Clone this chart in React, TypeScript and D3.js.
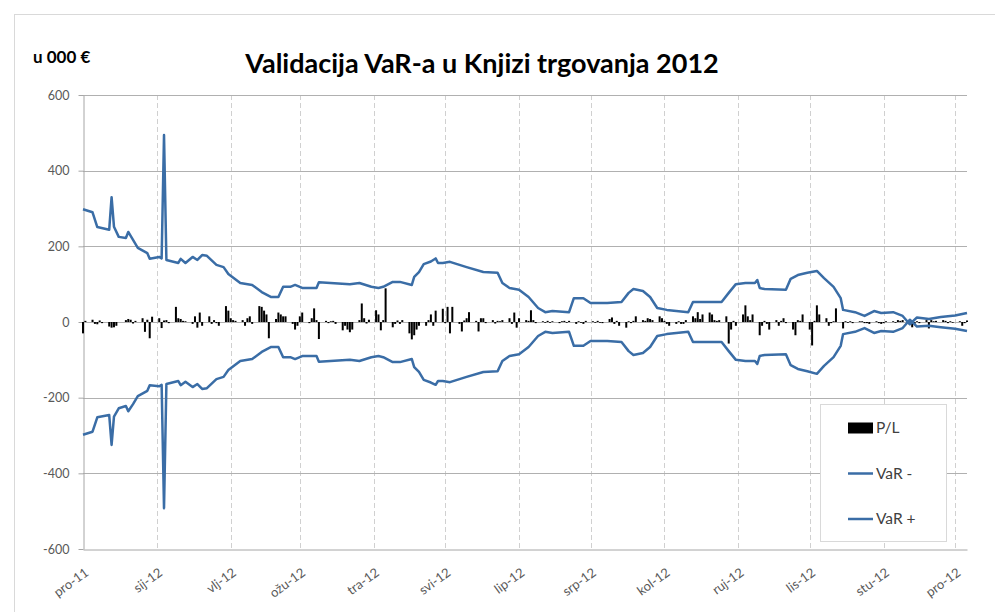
import { useEffect, useRef } from "react";
import * as d3 from "d3";

// month tick labels (Croatian Excel short months)
const monthLabels = [
  "pro-11", "sij-12", "vlj-12", "ožu-12", "tra-12", "svi-12", "lip-12",
  "srp-12", "kol-12", "ruj-12", "lis-12", "stu-12", "pro-12",
];
const yTicks = [-600, -400, -200, 0, 200, 400, 600];

// VaR band at the points where the line turns
const varDates = [
  "2011-12-01", "2011-12-05", "2011-12-07", "2011-12-12", "2011-12-13", "2011-12-14",
  "2011-12-16", "2011-12-19", "2011-12-20", "2011-12-22", "2011-12-24", "2011-12-28",
  "2011-12-29", "2012-01-02", "2012-01-03", "2012-01-04", "2012-01-05", "2012-01-10",
  "2012-01-11", "2012-01-13", "2012-01-16", "2012-01-18", "2012-01-20", "2012-01-22",
  "2012-01-26", "2012-01-29", "2012-01-31", "2012-02-05", "2012-02-10", "2012-02-14",
  "2012-02-18", "2012-02-21", "2012-02-23", "2012-02-26", "2012-02-28", "2012-03-02",
  "2012-03-08", "2012-03-09", "2012-03-22", "2012-03-26", "2012-03-31", "2012-04-03",
  "2012-04-05", "2012-04-09", "2012-04-12", "2012-04-17", "2012-04-18", "2012-04-20",
  "2012-04-22", "2012-04-25", "2012-04-27", "2012-04-28", "2012-04-30", "2012-05-03",
  "2012-05-10", "2012-05-17", "2012-05-23", "2012-05-25", "2012-05-28", "2012-06-01",
  "2012-06-05", "2012-06-09", "2012-06-12", "2012-06-15", "2012-06-22", "2012-06-24",
  "2012-06-28", "2012-07-01", "2012-07-08", "2012-07-14", "2012-07-17", "2012-07-19",
  "2012-07-23", "2012-07-26", "2012-07-29", "2012-08-02", "2012-08-11", "2012-08-13",
  "2012-08-25", "2012-08-28", "2012-08-31", "2012-09-04", "2012-09-08", "2012-09-09",
  "2012-09-10", "2012-09-12", "2012-09-21", "2012-09-23", "2012-09-26", "2012-09-30",
  "2012-10-04", "2012-10-07", "2012-10-11", "2012-10-14", "2012-10-15", "2012-10-20",
  "2012-10-24", "2012-10-28", "2012-10-31", "2012-11-05", "2012-11-09", "2012-11-12",
  "2012-11-15", "2012-11-20", "2012-11-25", "2012-12-01", "2012-12-06",
];
const varUpper = [
  298, 290, 251, 244, 330, 252, 225, 222, 238, 217, 196, 182,
  167, 172, 168, 494, 164, 156, 167, 156, 172, 164, 177, 175,
  151, 145, 127, 103, 98, 79, 66, 66, 93, 93, 98, 90,
  90, 105, 100, 103, 93, 90, 93, 106, 106, 98, 119, 132,
  153, 160, 168, 156, 156, 159, 145, 132, 130, 103, 90, 85,
  66, 37, 26, 29, 26, 63, 63, 50, 50, 53, 77, 87,
  82, 66, 37, 32, 26, 53, 53, 77, 100, 103, 103, 111,
  90, 87, 85, 114, 124, 130, 135, 116, 93, 63, 32, 26,
  16, 29, 24, 26, 16, -6, 12, 8, 13, 17, 24,
];
const varLower = [
  -298, -290, -252, -246, -325, -250, -228, -222, -236, -217, -196, -182,
  -167, -170, -166, -492, -164, -156, -167, -158, -172, -164, -177, -175,
  -151, -145, -127, -103, -98, -79, -66, -66, -93, -93, -98, -90,
  -90, -105, -100, -103, -93, -90, -93, -106, -106, -98, -119, -132,
  -153, -160, -166, -156, -156, -159, -145, -132, -130, -103, -90, -85,
  -66, -37, -26, -29, -26, -63, -63, -50, -50, -53, -77, -87,
  -82, -66, -37, -32, -26, -53, -53, -77, -100, -103, -103, -111,
  -90, -87, -85, -114, -124, -130, -137, -116, -93, -63, -32, -26,
  -16, -29, -24, -26, -16, 6, -12, -10, -14, -18, -24,
];

// daily P/L, one value per working day from 1 Dec 2011 to 6 Dec 2012
const plValues = [
  // pro-11
  -30, 3, 6, -5, -6, 4, -3, -12, -15, -14, -10, 0, 5, 8, 6, -4, 3, 10, -26, 6, -43, 14,
  // sij-12
  10, -16, 4, 5, -3, 40, 10, 8, 3, 2, -5, 15, -15, 25, -10, 15, -5, 5, -3, -10, 42, 30,
  // vlj-12
  10, 5, 3, 5, -10, 10, 15, -5, 42, 40, 30, 20, -43, 8, 25, 20, 15, 15, -5, -20, -10,
  // ožu-12
  15, 25, -3, 10, 36, 5, -45, 3, -3, 2, 3, -5, -22, -10, -20, -27, -20, 5, 49, 10, -4, 6,
  // tra-12
  31, 20, -22, 5, 89, -14, -5, 4, -5, 5, -30, -46, -35, -20, -10, -10, 5, 20, -10, 30, 35,
  // svi-12
  -3, 40, -30, 40, -5, -25, 4, 10, 26, 3, -25, 10, 10, -3, 5, -4, 3, 2, 5, 10, -5, 25, -15,
  // lip-12
  10, 5, 3, 31, 5, -3, 2, -2, 3, -2, 2, -3, 2, 3, -2, 3, -5, 2, -2, -5, 3,
  // srp-12
  2, -2, 3, -2, -3, 8, 12, -5, 3, -10, -15, 2, -3, 3, 15, 5, 3, 10, 8, 5, 15, 10,
  // kol-12
  3, -5, -10, -5, 2, -5, -5, 5, 15, 10, 26, 8, 20, 25, 20, 5, 3, 5, 15, -57, -20, 3, -10,
  // ruj-12
  20, 44, 15, 5, 20, -35, -10, 3, -5, -20, 5, -10, 3, 10, -3, -20, -35, 5, 3, 20,
  // lis-12
  -20, -62, 3, 44, 20, 10, -10, -3, 2, 36, -17, 2, -2, 2, -3, 2, 2, -3, -3, -5, 2, -3, -5,
  // stu-12
  -3, 2, 2, -2, 5, 3, 5, -8, -14, -5, 2, -3, 5, -17, 5, 2, 3, 5, 3, -3, 2, -2,
  // pro-12
  2, -10, -3, 4,
];

const legendItems = ["P/L", "VaR -", "VaR +"];

function App() {
  const ref = useRef<SVGSVGElement>(null);

  useEffect(() => {
    const svg = d3.select(ref.current);
    svg.selectAll("*").remove();
    const font = "Lato, 'Open Sans', sans-serif";
    const lineColor = "#3a6da6";

    const left = 83;
    const right = 967;
    const top = 95;
    const bottom = 549;

    const start = new Date(2011, 11, 1);
    const end = new Date(2012, 11, 6);
    const x = d3.scaleTime().domain([start, end]).range([left, right]);
    const y = d3.scaleLinear().domain([-600, 600]).range([bottom, top]);

    // outer chart frame
    svg
      .append("rect")
      .attr("x", 14.5)
      .attr("y", 14.5)
      .attr("width", 1000)
      .attr("height", 700)
      .attr("fill", "#fff")
      .attr("stroke", "#d9d9d9");

    svg
      .append("text")
      .attr("x", 482)
      .attr("y", 73)
      .attr("text-anchor", "middle")
      .attr("font-family", font)
      .attr("font-weight", "bold")
      .attr("font-size", 27)
      .attr("fill", "#000")
      .text("Validacija VaR-a u Knjizi trgovanja 2012");

    svg
      .append("text")
      .attr("x", 33)
      .attr("y", 63)
      .attr("font-family", font)
      .attr("font-weight", "bold")
      .attr("font-size", 17)
      .attr("fill", "#000")
      .text("u 000 €");

    const months = d3.timeMonth.range(start, new Date(2012, 11, 2));

    // vertical dashed month gridlines
    svg
      .append("g")
      .selectAll("line")
      .data(months.slice(1))
      .enter()
      .append("line")
      .attr("x1", (d) => Math.round(x(d)) + 0.5)
      .attr("x2", (d) => Math.round(x(d)) + 0.5)
      .attr("y1", top)
      .attr("y2", bottom)
      .attr("stroke", "#d0d0d0")
      .attr("stroke-dasharray", "5,3");

    // horizontal gridlines
    svg
      .append("g")
      .selectAll("line")
      .data(yTicks.slice(1))
      .enter()
      .append("line")
      .attr("x1", left)
      .attr("x2", right)
      .attr("y1", (d) => Math.round(y(d)) + 0.5)
      .attr("y2", (d) => Math.round(y(d)) + 0.5)
      .attr("stroke", "#b0b0b0");

    // y axis
    const yAxis = svg
      .append("g")
      .attr("transform", `translate(${left + 0.5},0)`)
      .call(
        d3
          .axisLeft(y)
          .tickValues(yTicks)
          .tickSize(5)
          .tickSizeOuter(0)
          .tickPadding(9)
          .tickFormat((d) => String(d))
      );
    yAxis.select(".domain").attr("stroke", "#a6a6a6");
    yAxis.selectAll(".tick line").attr("stroke", "#a6a6a6");
    yAxis
      .selectAll("text")
      .attr("font-family", font)
      .attr("font-size", 12.5)
      .attr("fill", "#595959");

    // x axis
    const xAxis = svg
      .append("g")
      .attr("transform", `translate(0,${Math.round(bottom) + 0.5})`)
      .call(
        d3
          .axisBottom(x)
          .tickValues(months)
          .tickSize(0)
          .tickSizeOuter(0)
          .tickFormat((d, i) => monthLabels[i])
      );
    xAxis.select(".domain").attr("stroke", "#a6a6a6");
    xAxis
      .selectAll("text")
      .attr("font-family", font)
      .attr("font-size", 13)
      .attr("fill", "#595959")
      .attr("text-anchor", "end")
      .attr("x", 0)
      .attr("y", 0)
      .attr("dy", 0)
      .attr("transform", "translate(6,25) rotate(-36)");

    // P/L bars
    const days = d3.timeDay
      .range(start, new Date(2012, 11, 7))
      .filter((d) => d.getDay() !== 0 && d.getDay() !== 6);
    const plData = plValues.map((v, i) => ({ date: days[i], value: v }));

    svg
      .append("g")
      .selectAll("rect")
      .data(plData)
      .enter()
      .append("rect")
      .attr("x", (d) => x(d.date) - 1)
      .attr("width", 2)
      .attr("y", (d) => Math.min(y(d.value), y(0)))
      .attr("height", (d) => Math.abs(y(d.value) - y(0)))
      .attr("fill", "#000");

    // VaR lines
    const parse = d3.timeParse("%Y-%m-%d");
    const line = d3
      .line<[string, number]>()
      .x((d) => x(parse(d[0]) as Date))
      .y((d) => y(d[1]));

    [varLower, varUpper].forEach((vals) => {
      svg
        .append("path")
        .datum(varDates.map((d, i) => [d, vals[i]] as [string, number]))
        .attr("d", line)
        .attr("fill", "none")
        .attr("stroke", lineColor)
        .attr("stroke-width", 2.5)
        .attr("stroke-linejoin", "round");
    });

    // legend
    const lg = svg.append("g");
    lg.append("rect")
      .attr("x", 820.5)
      .attr("y", 404.5)
      .attr("width", 126)
      .attr("height", 137)
      .attr("fill", "#fff")
      .attr("stroke", "#d9d9d9");

    legendItems.forEach((name, i) => {
      const cy = 428 + i * 45.5;
      if (i === 0) {
        lg.append("rect")
          .attr("x", 848)
          .attr("y", cy - 5.5)
          .attr("width", 25)
          .attr("height", 11)
          .attr("fill", "#000");
      } else {
        lg.append("line")
          .attr("x1", 848)
          .attr("x2", 873)
          .attr("y1", cy)
          .attr("y2", cy)
          .attr("stroke", lineColor)
          .attr("stroke-width", 2.5);
      }
      lg.append("text")
        .attr("x", 876)
        .attr("y", cy)
        .attr("dy", "0.35em")
        .attr("font-family", font)
        .attr("font-size", 15.5)
        .attr("fill", "#404040")
        .text(name);
    });
  }, []);

  return (
    <svg
      ref={ref}
      width={995}
      height={612}
      style={{ position: "absolute", left: 0, top: 0, background: "#fff" }}
    />
  );
}

export default App;
